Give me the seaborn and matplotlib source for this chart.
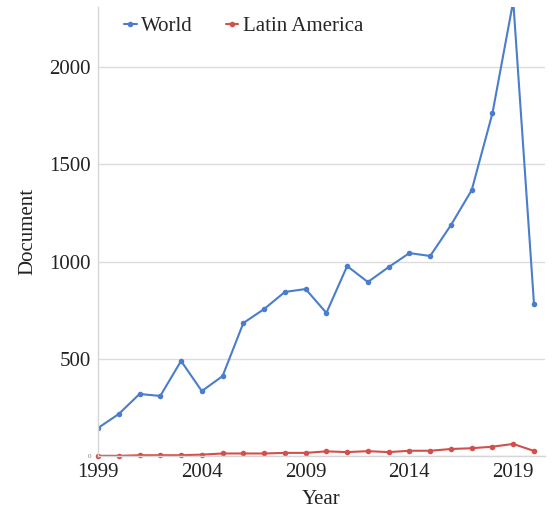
import matplotlib
matplotlib.use("Agg")
import matplotlib.pyplot as plt
import seaborn as sns
import pandas as pd

years = list(range(1999, 2021))
world = [144, 216, 319, 309, 489, 334, 411, 684, 756, 844, 859, 736,
         977, 895, 972, 1044, 1029, 1188, 1368, 1764, 2340, 782]
latin_america = [1, 1, 4, 4, 4, 7, 13, 13, 13, 16, 16, 24,
                 20, 25, 20, 27, 27, 36, 40, 48, 62, 26]
series_names = ["World", "Latin America"]
series_colors = ["#4a7dcc", "#d2504c"]
y_ticks = [0, 500, 1000, 1500, 2000]
x_ticks = [1999, 2004, 2009, 2014, 2019]

df = pd.DataFrame({
    "Year": years * 2,
    "Document": world + latin_america,
    "Series": [series_names[0]] * len(years) + [series_names[1]] * len(years),
})

sns.set_theme(style="white")
plt.rcParams["font.family"] = ["Liberation Serif", "DejaVu Serif"]

fig = plt.figure(figsize=(5.53, 5.09), dpi=100)
ax = fig.add_axes([98 / 553, 53 / 509, 447 / 553, 449 / 509])

sns.lineplot(data=df, x="Year", y="Document", hue="Series",
             hue_order=series_names, palette=series_colors,
             marker="o", markersize=4, markeredgewidth=0,
             linewidth=1.5, ax=ax)

ax.set_xlim(1999, 2020.53)
ax.set_ylim(0, 2310)
ax.set_xticks(x_ticks)
ax.set_xticklabels([str(t) for t in x_ticks], fontsize=15, color="#222222")
ax.set_yticks(y_ticks)
ax.set_yticklabels([str(t) for t in y_ticks], fontsize=15, color="#222222")
ylabels = ax.get_yticklabels()
ylabels[0].set_fontsize(5)
ylabels[0].set_color("#777777")
ax.tick_params(axis="both", length=0)
ax.tick_params(axis="x", pad=5)
ax.tick_params(axis="y", pad=5)

ax.yaxis.grid(True, color="#dcdcdc", linewidth=1)
ax.xaxis.grid(False)
for side in ["top", "right"]:
    ax.spines[side].set_visible(False)
for side in ["left", "bottom"]:
    ax.spines[side].set_color("#d6d6d6")
    ax.spines[side].set_linewidth(1)

for line in ax.lines:
    if line.get_color() == series_colors[1]:
        line.set_clip_on(False)

ax.set_xlabel("Year", fontsize=15, color="#222222", labelpad=6)
ax.set_ylabel("Document", fontsize=15, color="#222222", labelpad=8.5)

handles, labels = ax.get_legend_handles_labels()
ax.legend(handles, labels, loc="upper left", bbox_to_anchor=(0.04, 0.997),
          ncol=2, frameon=False, fontsize=15, handlelength=0.6,
          handletextpad=0.2, columnspacing=1.6, borderaxespad=0)

fig.savefig("out.png", dpi=100)
